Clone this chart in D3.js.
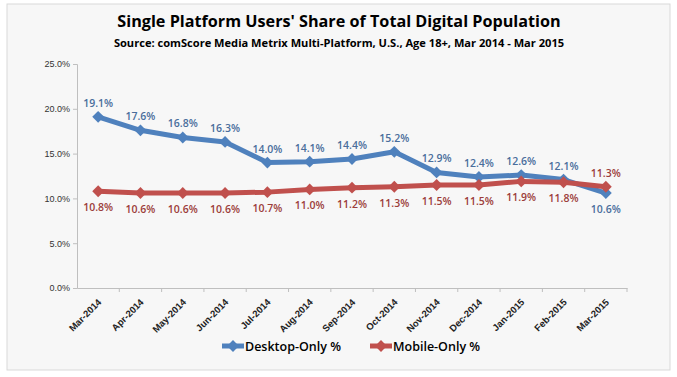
<!DOCTYPE html>
<html>
<head>
<meta charset="utf-8">
<script src="https://cdn.jsdelivr.net/npm/d3@7"></script>
<style>
body { margin: 0; background: #fff; }
svg { display: block; font-family: "Open Sans", "DejaVu Sans", sans-serif; }
</style>
</head>
<body>
<div id="chart"></div>
<script>
// data
var months = ["Mar-2014", "Apr-2014", "May-2014", "Jun-2014", "Jul-2014", "Aug-2014", "Sep-2014",
              "Oct-2014", "Nov-2014", "Dec-2014", "Jan-2015", "Feb-2015", "Mar-2015"];
var desktopOnly = [19.1, 17.6, 16.8, 16.3, 14.0, 14.1, 14.4, 15.2, 12.9, 12.4, 12.6, 12.1, 10.6];
var mobileOnly = [10.8, 10.6, 10.6, 10.6, 10.7, 11.0, 11.2, 11.3, 11.5, 11.5, 11.9, 11.8, 11.3];
var yTicks = [0, 5, 10, 15, 20, 25];

var W = 677, H = 377;
var margin = {top: 64, right: 50, bottom: 89, left: 77},
    width = W - margin.left - margin.right,
    height = H - margin.top - margin.bottom;

var blue = "#4f81bd", red = "#c0504d";
var blueText = "#4a6e9c", redText = "#9c3d3a";

var root = d3.select("#chart").append("svg")
    .attr("width", W)
    .attr("height", H);

// frame
root.append("rect")
    .attr("x", 7).attr("y", 4)
    .attr("width", 663).attr("height", 366)
    .attr("fill", "#f7f7f7")
    .attr("stroke", "#d9d9d9");

root.append("text")
    .attr("x", 339).attr("y", 27)
    .attr("text-anchor", "middle")
    .style("font-size", "16.2px").style("font-weight", "bold")
    .attr("fill", "#000")
    .text("Single Platform Users' Share of Total Digital Population");

root.append("text")
    .attr("x", 339).attr("y", 47)
    .attr("text-anchor", "middle")
    .style("font-size", "11.1px").style("font-weight", "bold")
    .attr("fill", "#000")
    .text("Source: comScore Media Metrix Multi-Platform, U.S., Age 18+, Mar 2014 - Mar 2015");

var svg = root.append("g")
    .attr("transform", "translate(" + margin.left + "," + margin.top + ")");

var x = d3.scaleBand()
    .domain(months)
    .range([0, width]);

var y = d3.scaleLinear()
    .domain([0, 25])
    .range([height, 0]);

// Y axis
var yAxis = svg.append("g")
    .call(d3.axisLeft(y).tickValues(yTicks).tickSize(4).tickFormat(function(d) { return d.toFixed(1) + "%"; }));
yAxis.select(".domain").attr("stroke", "#bfbfbf");
yAxis.selectAll(".tick line").attr("stroke", "#bfbfbf");
yAxis.selectAll("text").attr("fill", "#333").style("font-size", "9px");

// X axis (ticks at band edges, excel style)
var xAxis = svg.append("g")
    .attr("transform", "translate(0," + height + ")")
    .call(d3.axisBottom(x).tickSize(0).tickSizeOuter(0));
xAxis.select(".domain").attr("stroke", "#bfbfbf");
xAxis.selectAll("text")
    .attr("transform", "translate(-3,8)rotate(-45)")
    .style("text-anchor", "end")
    .style("font-size", "9.5px")
    .style("font-weight", "600")
    .attr("fill", "#222");
svg.append("g").selectAll("line")
    .data(months)
    .enter().append("line")
    .attr("x1", function(d) { return x(d) + x.bandwidth(); })
    .attr("x2", function(d) { return x(d) + x.bandwidth(); })
    .attr("y1", height).attr("y2", height + 4)
    .attr("stroke", "#bfbfbf");

var cx = function(i) { return x(months[i]) + x.bandwidth() / 2; };

var line = d3.line()
    .x(function(d, i) { return cx(i); })
    .y(function(d) { return y(d); });

// square turned 45 degrees, like the excel diamond marker
var diamond = d3.symbol().type(d3.symbolSquare).size(70);

function drawSeries(values, color, textColor, labelAbove) {
    svg.append("path")
        .datum(values)
        .attr("fill", "none")
        .attr("stroke", color)
        .attr("stroke-width", 5)
        .attr("stroke-linejoin", "round")
        .attr("d", line);
    svg.append("g").selectAll("path")
        .data(values)
        .enter().append("path")
        .attr("d", diamond)
        .attr("transform", function(d, i) { return "translate(" + cx(i) + "," + y(d) + ")rotate(45)"; })
        .attr("fill", color);
    svg.append("g").selectAll("text")
        .data(values)
        .enter().append("text")
        .attr("x", function(d, i) { return cx(i); })
        .attr("y", function(d, i) { return labelAbove(i) ? y(d) - 10 : y(d) + 20; })
        .attr("text-anchor", "middle")
        .style("font-size", "10.5px")
        .style("font-weight", "600")
        .attr("fill", textColor)
        .text(function(d) { return d.toFixed(1) + "%"; });
}

var last = months.length - 1;
drawSeries(desktopOnly, blue, blueText, function(i) { return i != last; });
drawSeries(mobileOnly, red, redText, function(i) { return i == last; });

// legend
var legend = root.append("g").attr("transform", "translate(0,346)");
var items = [["Desktop-Only %", blue, 222], ["Mobile-Only %", red, 370]];
items.forEach(function(it) {
    legend.append("line")
        .attr("x1", it[2]).attr("x2", it[2] + 22)
        .attr("stroke", it[1]).attr("stroke-width", 5);
    legend.append("path")
        .attr("d", diamond)
        .attr("transform", "translate(" + (it[2] + 11) + ",0)rotate(45)")
        .attr("fill", it[1]);
    legend.append("text")
        .attr("x", it[2] + 23).attr("y", 5)
        .style("font-size", "12.5px")
        .style("font-weight", "600")
        .attr("fill", "#000")
        .text(it[0]);
});
</script>
</body>
</html>
